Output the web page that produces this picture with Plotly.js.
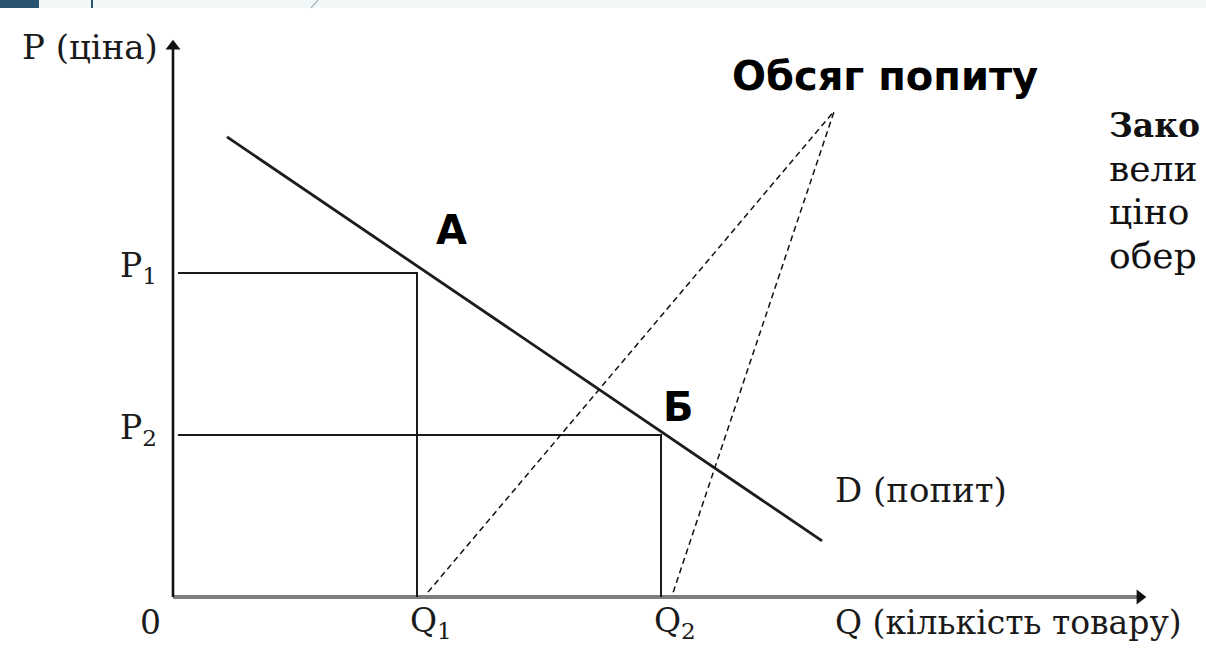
<!DOCTYPE html>
<html>
<head>
<meta charset="utf-8">
<script src="https://cdn.plot.ly/plotly-3.0.1.min.js"></script>
<style>html,body{margin:0;padding:0;background:#fff;}#chart{width:1206px;height:669px;}</style>
</head>
<body>
<div id="chart"></div>
<script>
// ---- data (economic units) ----
const qLevels = [4, 8];            // Q1, Q2
const qLabels = ['Q<sub>1</sub>', 'Q<sub>2</sub>'];
const pLevels = [6, 3];            // P1, P2
const pLabels = ['P<sub>1</sub>', 'P<sub>2</sub>'];
const demandQ = [0.885, 10.64];    // demand curve D
const demandP = [8.52, 1.04];
const pointNames = ['А', 'Б'];
const axisQmax = 15.85;
const axisPmax = 10.2;
const calloutApex = [10.84, 9.0];  // "Обсяг попиту" pointer apex
const calloutFeet = [4.18, 8.2];   // pointer feet on the Q axis
const calloutFootP = 0.09;

// ---- geometry helpers ----
const W = 1206, H = 669;
const ox = 173, oy = 597, sx = 61, sy = 54;
const xr = [-ox / sx, (W - ox) / sx];
const yr = [-(H - oy) / sy, oy / sy];
const px = v => v / W;            // paper x from pixel
const py = v => 1 - v / H;        // paper y from pixel

const serif = 'DejaVu Serif, serif';
const traces = [];
const line = (xs, ys, color, width, dash) => traces.push({
  x: xs, y: ys, mode: 'lines', type: 'scatter', hoverinfo: 'skip', showlegend: false,
  line: {color: color, width: width, dash: dash || 'solid'}
});

// x axis line (gray) and y axis line (black)
line([0, axisQmax], [0, 0], '#7d7d7d', 4);
line([0, 0], [0, axisPmax], '#111', 2.6);
// arrow heads
traces.push({x: [0], y: [axisPmax], mode: 'markers', type: 'scatter', hoverinfo: 'skip', showlegend: false,
  marker: {symbol: 'triangle-up', size: 13, color: '#111', line: {width: 0}}});
traces.push({x: [axisQmax], y: [0], mode: 'markers', type: 'scatter', hoverinfo: 'skip', showlegend: false,
  marker: {symbol: 'triangle-right', size: 13, color: '#111', line: {width: 0}}});
// guide boxes
qLevels.forEach((q, i) => {
  line([0.08, q, q], [pLevels[i], pLevels[i], 0], '#1a1a1a', 2);
});
// demand curve
line(demandQ, demandP, '#1c1c1c', 2.8);
// callout dashed lines
calloutFeet.forEach(f => line([f, calloutApex[0]], [calloutFootP, calloutApex[1]], '#111', 1.5, '6px,4px'));

const ann = [];
const txt = (x, y, text, size, opts) => ann.push(Object.assign({
  x: x, y: y, xref: 'x', yref: 'y', text: text, showarrow: false,
  font: {family: serif, size: size, color: '#1a1a1a'}
}, opts || {}));

// axis labels
const lblP = -0.48;
txt(0, 10.185, 'P (ціна)', 34, {xanchor: 'right', xshift: -13});
txt(10.82, lblP, 'Q (кількість товару)', 33, {xanchor: 'left'});
txt(-0.377, lblP, '0', 33);
qLevels.forEach((q, i) => txt(q, lblP, qLabels[i], 33, {xanchor: 'left', xshift: -9}));
pLevels.forEach((p, i) => txt(0, p, pLabels[i], 33, {xanchor: 'right', xshift: -14, yshift: 6}));
txt(10.82, 1.98, 'D (попит)', 34, {xanchor: 'left'});

// point labels
const bold = 'DejaVu Sans, sans-serif';
txt(4.57, 6.8, '<b>' + pointNames[0] + '</b>', 40, {font: {family: bold, size: 40, color: '#000'}});
txt(8.28, 3.52, '<b>' + pointNames[1] + '</b>', 40, {font: {family: bold, size: 40, color: '#000'}});
txt(11.67, 9.65, '<b>Обсяг попиту</b>', 40, {font: {family: bold, size: 40, color: '#000'}});

// cut-off text on the right
const rightLines = ['<b>Зако</b>', 'вели', 'ціно', 'обер'];
const rightY = [125, 168, 212, 255];
const rightSize = [33, 36, 36, 36];
rightLines.forEach((t, i) => ann.push({
  x: px(1107), y: py(rightY[i]), xref: 'paper', yref: 'paper', xanchor: 'left', yanchor: 'middle',
  text: t, showarrow: false, font: {family: serif, size: rightSize[i], color: '#111'}
}));

// header strip
const shapes = [
  {type: 'rect', xref: 'paper', yref: 'paper', x0: 0, x1: 1, y0: py(8), y1: 1, fillcolor: '#f2f7f8', line: {width: 0}, layer: 'below'},
  {type: 'rect', xref: 'paper', yref: 'paper', x0: 0, x1: px(39), y0: py(8), y1: 1, fillcolor: '#2b5470', line: {width: 0}},
  {type: 'line', xref: 'paper', yref: 'paper', x0: px(92), x1: px(92), y0: py(8), y1: 1, line: {color: '#2b5470', width: 2}},
  {type: 'line', xref: 'paper', yref: 'paper', x0: px(318), x1: px(311), y0: 1, y1: py(8), line: {color: '#9fb6c2', width: 1.2}}
];

const layout = {
  width: W, height: H, margin: {l: 0, r: 0, t: 0, b: 0},
  paper_bgcolor: '#ffffff', plot_bgcolor: '#ffffff',
  xaxis: {range: xr, visible: false, fixedrange: true},
  yaxis: {range: yr, visible: false, fixedrange: true},
  annotations: ann, shapes: shapes, showlegend: false
};
Plotly.newPlot('chart', traces, layout, {displayModeBar: false, staticPlot: true});
</script>
</body>
</html>
